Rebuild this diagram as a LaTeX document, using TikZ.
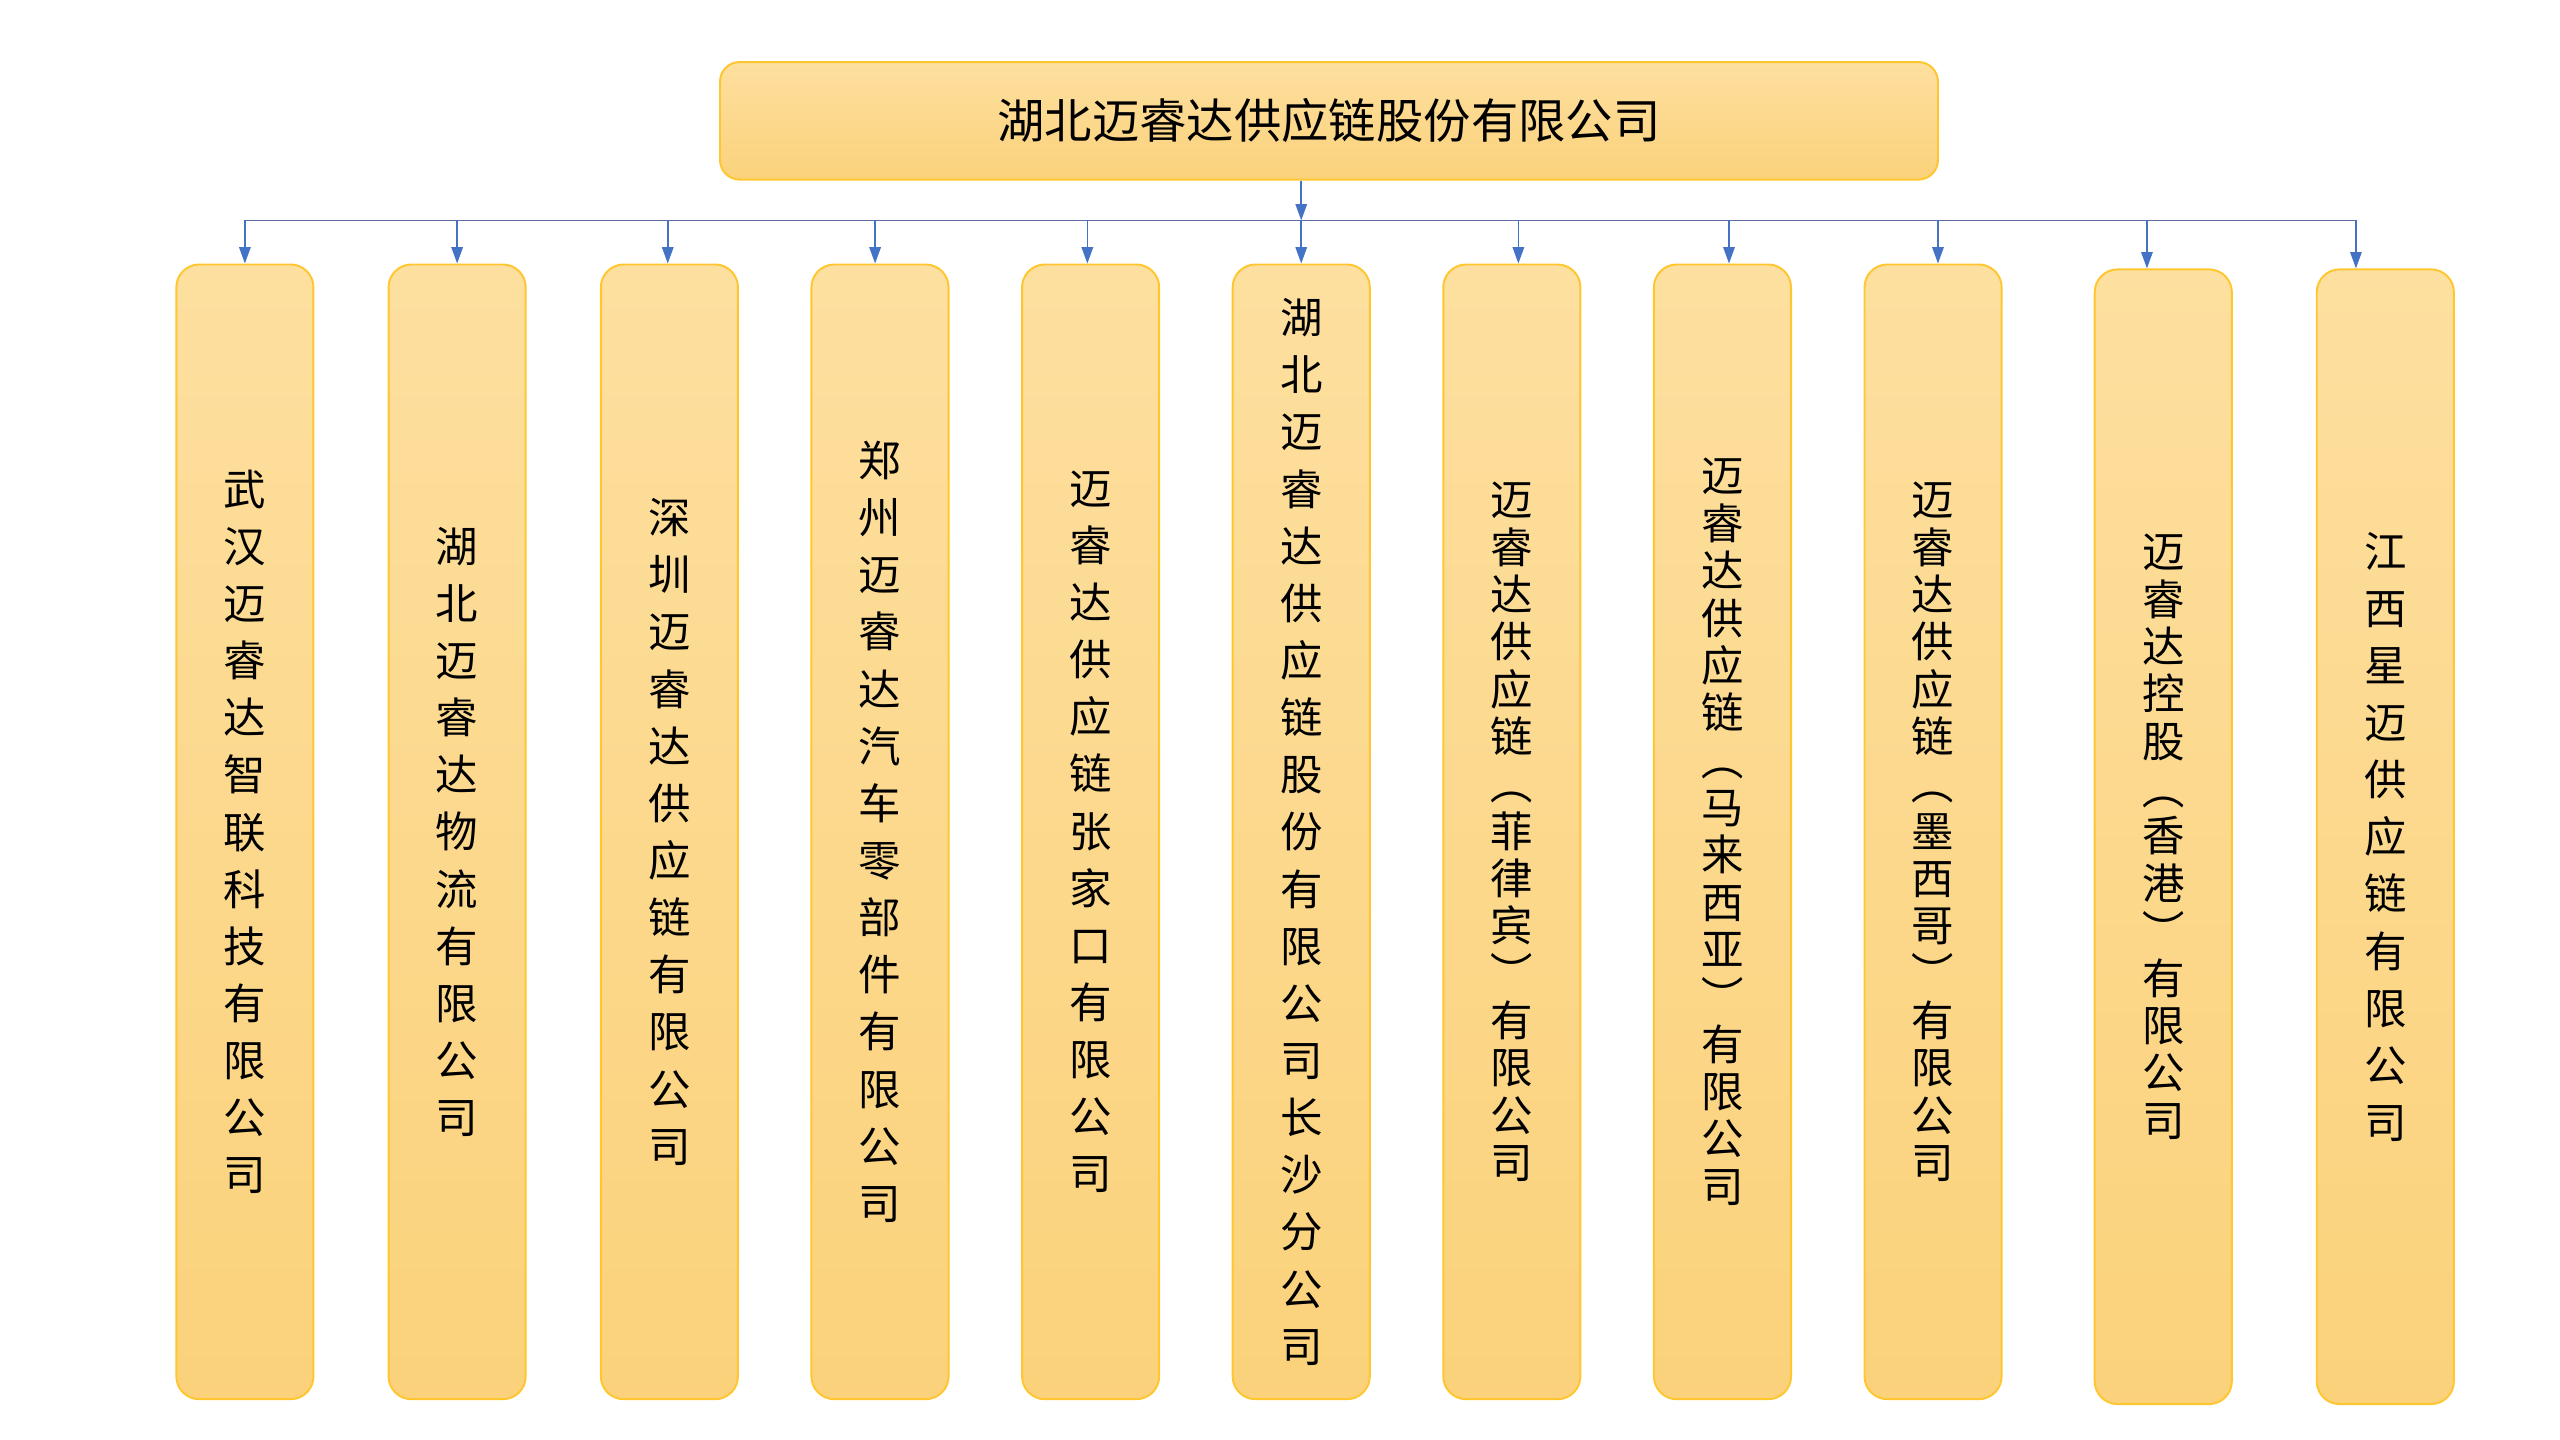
\documentclass[tikz,border=0pt]{standalone}
\usepackage{fontspec}
\newfontfamily\cjk{Noto Sans CJK SC}
\usetikzlibrary{arrows.meta}
\definecolor{boxtop}{HTML}{FDDF9F}
\definecolor{boxbot}{HTML}{FBD27B}
\definecolor{boxline}{HTML}{FFC62F}
\definecolor{busline}{HTML}{5F6F9F}
\definecolor{arrblue}{HTML}{4472C4}
\newcommand\lpar{\rotatebox[origin=c]{-90}{（}}
\newcommand\rpar{\rotatebox[origin=c]{-90}{）}}
\tikzset{
  headbox/.style={draw=boxline, line width=1.2pt, rounded corners=12pt,
    top color=boxtop, bottom color=boxbot, minimum width=746, minimum height=72,
    font=\cjk\fontsize{29}{34}\selectfont},
  subbox/.style={draw=boxline, line width=1.2pt, rounded corners=14pt,
    top color=boxtop, bottom color=boxbot, minimum width=84, minimum height=695,
    inner sep=0pt, align=center, font=\cjk\fontsize{26}{35}\selectfont},
  tight/.style={font=\cjk\fontsize{26}{29}\selectfont},
  bus/.style={draw=busline, line width=1pt},
  arr/.style={draw=arrblue, line width=1pt, -{Triangle[length=10pt,width=7pt]}}
}
\begin{document}
\begin{tikzpicture}[x=1pt,y=-1pt]
  \useasboundingbox (0,0) rectangle (1568,882);
  % parent company
  \node[headbox] (head) at (814,74) {湖北迈睿达供应链股份有限公司};
  % subsidiaries
  \node[subbox] (c1) at (150,509.5) {武\\汉\\迈\\睿\\达\\智\\联\\科\\技\\有\\限\\公\\司};
  \node[subbox] (c2) at (280,509.5) {湖\\北\\迈\\睿\\达\\物\\流\\有\\限\\公\\司};
  \node[subbox] (c3) at (410,509.5) {深\\圳\\迈\\睿\\达\\供\\应\\链\\有\\限\\公\\司};
  \node[subbox] (c4) at (539,509.5) {郑\\州\\迈\\睿\\达\\汽\\车\\零\\部\\件\\有\\限\\公\\司};
  \node[subbox] (c5) at (668,509.5) {迈\\睿\\达\\供\\应\\链\\张\\家\\口\\有\\限\\公\\司};
  \node[subbox] (c6) at (797,509.5) {湖\\北\\迈\\睿\\达\\供\\应\\链\\股\\份\\有\\限\\公\\司\\长\\沙\\分\\公\\司};
  \node[subbox,tight] (c7) at (926,509.5) {迈\\睿\\达\\供\\应\\链\\\lpar\\菲\\律\\宾\\\rpar\\有\\限\\公\\司};
  \node[subbox,tight] (c8) at (1055,509.5) {迈\\睿\\达\\供\\应\\链\\\lpar\\马\\来\\西\\亚\\\rpar\\有\\限\\公\\司};
  \node[subbox,tight] (c9) at (1184,509.5) {迈\\睿\\达\\供\\应\\链\\\lpar\\墨\\西\\哥\\\rpar\\有\\限\\公\\司};
  \node[subbox,tight] (c10) at (1325,512.5) {迈\\睿\\达\\控\\股\\\lpar\\香\\港\\\rpar\\有\\限\\公\\司};
  \node[subbox] (c11) at (1461,512.5) {江\\西\\星\\迈\\供\\应\\链\\有\\限\\公\\司};
  % bus points
  \coordinate (b0) at (797,135);
  \coordinate (b1) at (150,135);
  \coordinate (b2) at (280,135);
  \coordinate (b3) at (409,135);
  \coordinate (b4) at (536,135);
  \coordinate (b5) at (666,135);
  \coordinate (b6) at (797,135);
  \coordinate (b7) at (930,135);
  \coordinate (b8) at (1059,135);
  \coordinate (b9) at (1187,135);
  \coordinate (b10) at (1315,135);
  \coordinate (b11) at (1443,135);
  \draw[bus] (b1) -- (b11);
  \draw[arr] (head.south -| b0) -- (b0);
  \draw[arr] (b1) -- (b1 |- c1.north);
  \draw[arr] (b2) -- (b2 |- c2.north);
  \draw[arr] (b3) -- (b3 |- c3.north);
  \draw[arr] (b4) -- (b4 |- c4.north);
  \draw[arr] (b5) -- (b5 |- c5.north);
  \draw[arr] (b6) -- (b6 |- c6.north);
  \draw[arr] (b7) -- (b7 |- c7.north);
  \draw[arr] (b8) -- (b8 |- c8.north);
  \draw[arr] (b9) -- (b9 |- c9.north);
  \draw[arr] (b10) -- (b10 |- c10.north);
  \draw[arr] (b11) -- (b11 |- c11.north);
\end{tikzpicture}
\end{document}
